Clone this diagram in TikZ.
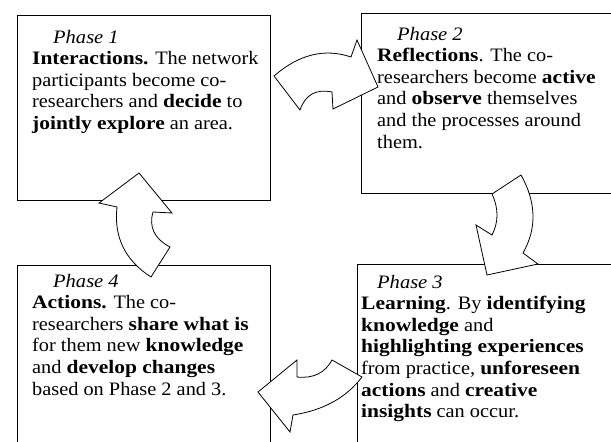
\documentclass[tikz,border=0pt]{standalone}
\usepackage{fontspec}
\setmainfont{Liberation Serif}[
    UprightFeatures={FakeStretch=1.07},
    BoldFeatures={FakeStretch=1.13},
    ItalicFeatures={FakeStretch=1.08}]

\tikzset{
    phasebox/.style={draw, line width=0.9pt, anchor=north west, inner sep=0pt},
    phasetext/.style={anchor=base west, align=left, inner sep=0pt,
        font=\fontsize{19}{21.6}\selectfont},
    turn/.style={draw, fill=white, line width=0.8pt, line join=miter}
}

\begin{document}
\begin{tikzpicture}[x=1pt, y=-1pt]
    \useasboundingbox (0, 0) rectangle (611, 442);
    \clip (0, 0) rectangle (611, 442);

    \node[phasebox, minimum width=253pt, minimum height=185pt] (box1) at (17, 15) {};
    \node[phasebox, minimum width=270pt, minimum height=180pt] (box2) at (361, 13) {};
    \node[phasebox, minimum width=270pt, minimum height=200pt] (box3) at (357, 264) {};
    \node[phasebox, minimum width=253pt, minimum height=200pt] (box4) at (17, 265) {};

    % text blocks hang from the baseline of their last line
    \node[phasetext] (text1) at (32, 129.4) {\hspace*{21pt}\textit{Phase 1}\\
        \textbf{Interactions.} The network\\
        participants become co-\\
        researchers and \textbf{decide} to\\
        \textbf{jointly explore} an area.};
    \node[phasetext] (text2) at (377, 148) {\hspace*{20pt}\textit{Phase 2}\\
        \textbf{Reflections}. The co-\\
        researchers become \textbf{active}\\
        and \textbf{observe} themselves\\
        and the processes around\\
        them.};
    \node[phasetext] (text3) at (361, 417.6) {\hspace*{16pt}\textit{Phase 3}\\
        \textbf{Learning}. By \textbf{identifying}\\
        \textbf{knowledge} and\\
        \textbf{highlighting experiences}\\
        from practice, \textbf{unforeseen}\\
        \textbf{actions} and \textbf{creative}\\
        \textbf{insights} can occur.};
    \node[phasetext] (text4) at (32, 395) {\hspace*{21pt}\textit{Phase 4}\\
        \textbf{Actions.} The co-\\
        researchers \textbf{share what is}\\
        for them new \textbf{knowledge}\\
        and \textbf{develop changes}\\
        based on Phase 2 and 3.};

    \draw[turn] (274, 76) .. controls (299, 54.3) and (324.7, 48) .. (351, 57)
        -- (357, 40) -- (378, 87) -- (333, 109) -- (332, 92)
        .. controls (316, 88.7) and (305.3, 94.7) .. (300, 110) -- cycle;
    \draw[turn] (492, 194) -- (521, 175)
        .. controls (536.3, 202.3) and (537, 228.3) .. (523, 253)
        -- (538, 264) -- (487, 275) -- (476, 225) -- (492, 235)
        .. controls (498.7, 222) and (498.7, 208.3) .. cycle;
    \draw[turn] (332, 360) -- (362, 377)
        .. controls (346.3, 397.7) and (323.3, 410.3) .. (293, 415)
        -- (290, 432) -- (258, 392) -- (297, 360) -- (297, 377)
        .. controls (313.3, 378.7) and (325, 373) .. cycle;
    \draw[turn] (139, 173) -- (172, 213) -- (153, 212)
        .. controls (148.7, 227) and (154.3, 238.7) .. (170, 247)
        -- (151, 277) .. controls (125, 260.3) and (113.7, 237) .. (117, 207)
        -- (99, 203) -- cycle;
\end{tikzpicture}
\end{document}
